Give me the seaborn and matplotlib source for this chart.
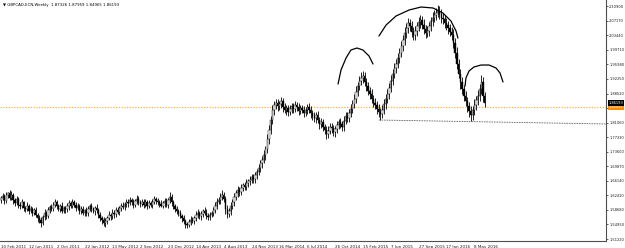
import numpy as np
import pandas as pd
import matplotlib
matplotlib.use("Agg")
import matplotlib.pyplot as plt
import seaborn as sns

# ---------------- data ----------------
FIRST_OPEN = 1.612
CLOSE = [
 1.617,1.622,1.610,1.625,1.630,1.618,1.626,1.612,1.604,1.615,
 1.600,1.596,1.606,1.592,1.588,1.598,1.584,1.590,1.580,1.586,
 1.575,1.566,1.560,1.552,1.568,1.578,1.572,1.586,1.594,1.590,
 1.600,1.606,1.596,1.590,1.598,1.585,1.592,1.588,1.596,1.604,
 1.598,1.606,1.600,1.592,1.596,1.584,1.590,1.580,1.586,1.578,
 1.590,1.596,1.588,1.584,1.592,1.586,1.574,1.566,1.560,1.552,
 1.558,1.566,1.574,1.570,1.580,1.576,1.586,1.582,1.592,1.598,
 1.594,1.602,1.608,1.604,1.612,1.606,1.600,1.610,1.616,1.608,
 1.602,1.608,1.600,1.606,1.598,1.604,1.600,1.608,1.614,1.610,
 1.606,1.602,1.598,1.604,1.610,1.600,1.612,1.620,1.606,1.596,
 1.590,1.584,1.578,1.572,1.566,1.558,1.550,1.548,1.556,1.562,
 1.558,1.566,1.574,1.580,1.570,1.576,1.584,1.580,1.572,1.568,
 1.574,1.580,1.586,1.598,1.608,1.612,1.620,1.626,1.616,1.590,
 1.576,1.584,1.596,1.608,1.620,1.630,1.638,1.634,1.644,1.650,
 1.646,1.656,1.660,1.664,1.670,1.666,1.676,1.684,1.694,1.706,
 1.716,1.728,1.742,1.768,1.792,1.818,1.842,1.856,1.862,1.852,
 1.858,1.866,1.850,1.842,1.848,1.838,1.846,1.852,1.846,1.856,
 1.850,1.840,1.848,1.844,1.836,1.842,1.850,1.844,1.834,1.828,
 1.822,1.830,1.818,1.806,1.812,1.800,1.792,1.782,1.790,1.800,
 1.796,1.786,1.794,1.804,1.812,1.806,1.800,1.816,1.828,1.822,
 1.834,1.846,1.858,1.872,1.890,1.904,1.918,1.926,1.930,1.916,
 1.904,1.892,1.884,1.872,1.862,1.856,1.846,1.838,1.832,1.844,
 1.858,1.872,1.884,1.900,1.918,1.936,1.950,1.962,1.976,1.990,
 2.006,2.022,2.040,2.054,2.066,2.058,2.042,2.034,2.046,2.058,
 2.068,2.074,2.062,2.050,2.040,2.046,2.058,2.070,2.080,2.086,
 2.092,2.098,2.088,2.080,2.076,2.066,2.060,2.052,2.044,2.036,
 2.016,1.990,1.962,1.936,1.914,1.896,1.878,1.866,1.852,1.840,
 1.830,1.842,1.856,1.868,1.880,1.896,1.916,1.878,1.862]
# upper / lower wick beyond the body, in units of 0.001
WICK_UP = [
 6,8,5,9,4,7,10,5,6,8, 5,7,9,4,6,8,5,7,4,6, 8,5,7,9,6,10,5,8,6,7,
 6,9,5,7,4,8,6,5,9,7, 5,8,6,7,9,5,6,8,4,7, 6,5,8,7,5,9,6,7,5,8,
 7,6,9,5,8,6,7,9,5,6, 8,5,7,6,9,5,8,6,10,7, 5,7,6,8,5,9,6,7,8,5,
 7,6,9,5,8,7,6,12,8,6, 5,7,6,8,5,9,6,7,8,10, 7,6,9,8,5,7,6,9,8,6,
 7,5,9,8,10,7,9,12,8,6, 9,7,10,8,9,7,10,8,9,7, 8,10,7,9,8,10,9,8,10,9,
 10,12,9,14,12,10,13,11,9,8, 9,11,8,10,7,9,11,8,10,9, 8,10,9,7,10,8,9,11,8,10,
 9,7,10,8,11,9,8,10,12,9, 10,8,9,11,9,10,8,12,10,9, 11,12,10,13,14,12,11,15,12,10,
 9,11,10,12,9,11,10,12,11,13, 12,11,13,12,14,11,13,12,14,13, 14,12,15,13,12,11,13,14,12,11,
 13,12,11,14,12,13,11,12,14,13, 12,14,11,13,12,10,14,12,11,13, 14,12,15,13,11,14,12,13,11,12,
 13,12,14,11,15,13,16,12,11]
WICK_DN = [
 7,5,9,6,8,5,7,9,6,5, 8,6,5,9,7,5,8,6,9,7, 6,9,7,8,5,7,9,6,8,5,
 7,5,8,6,9,7,5,8,6,9, 6,7,5,9,6,8,7,5,9,6, 8,6,7,5,9,6,8,7,9,6,
 9,7,5,8,6,9,7,5,8,7, 6,8,7,9,5,7,8,6,7,9, 7,6,8,5,9,6,7,8,5,7,
 6,8,5,7,9,6,8,7,9,8, 9,7,8,6,9,8,10,7,6,8, 6,8,7,9,6,8,7,5,9,7,
 8,6,9,7,8,6,10,7,9,14, 10,8,9,7,10,8,9,11,8,9, 9,8,11,9,8,10,9,11,8,10,
 11,9,12,10,13,11,10,12,10,11, 10,9,12,8,11,10,9,12,10,9, 9,11,8,10,12,9,10,8,11,10,
 10,12,9,11,10,12,11,13,10,9, 11,10,12,9,11,10,12,10,9,11, 10,9,12,11,10,12,11,10,13,12,
 12,11,13,10,12,11,13,12,14,10, 11,12,10,13,11,12,10,12,11,13, 12,11,13,12,14,12,13,11,12,13,
 12,14,11,13,12,11,13,12,11,12, 13,11,12,14,12,13,11,14,12,13, 15,13,14,12,16,13,12,14,13,15,
 14,13,12,14,11,13,12,15,12]

X_TICK_WEEKS = [0, 16, 32, 48, 64, 80, 96, 112, 128, 144, 160, 176, 192, 208, 224, 240, 256, 272]
X_TICK_LABELS = ["10 Feb 2011", "12 Jun 2011", "2 Oct 2011", "22 Jan 2012", "13 May 2012",
                 "2 Sep 2012", "23 Dec 2012", "14 Apr 2013", "4 Aug 2013", "24 Nov 2013",
                 "16 Mar 2014", "6 Jul 2014", "26 Oct 2014", "15 Feb 2015", "7 Jun 2015",
                 "27 Sep 2015", "17 Jan 2016", "8 May 2016"]
Y_TICKS = [1.51220, 1.54950, 1.58680, 1.62410, 1.66140, 1.69870, 1.73600, 1.77330, 1.81060,
           1.84790, 1.88520, 1.92250, 1.95980, 1.99710, 2.03440, 2.07170, 2.10900]
# the 1.84790 label sits under the price boxes in the reference
Y_TICK_LABELS = ["1.51220", "1.54950", "1.58680", "1.62410", "1.66140", "1.69870", "1.73600",
                 "1.77330", "1.81060", "", "1.88520", "1.92250", "1.95980", "1.99710",
                 "2.03440", "2.07170", "2.10900"]

HEADER = "\u25bc GBPCAD-ECN,Weekly  1.87326 1.87959 1.84965 1.86193"
LAST_PRICE = 1.86193
ORANGE_LEVEL = 1.85047

# hand-drawn annotations (week, price)
ARC_LEFT_W = [193.7, 195.4, 198.3, 201.1, 204.6, 208.0, 211.5, 213.8]
ARC_LEFT_P = [1.9096, 1.9455, 1.9763, 1.9968, 2.0019, 1.9968, 1.9814, 1.9609]
ARC_HEAD_W = [217.2, 221.3, 227.0, 234.5, 241.4, 248.3, 254.0, 258.6, 261.5, 262.6]
ARC_HEAD_P = [2.0326, 2.0608, 2.0839, 2.0993, 2.1070, 2.1045, 2.0916, 2.0711, 2.0455, 2.0275]
ARC_RIGHT_W = [266.7, 267.2, 269.0, 271.8, 275.9, 280.5, 284.5, 286.8, 288.5]
ARC_RIGHT_P = [1.9045, 1.9250, 1.9430, 1.9532, 1.9583, 1.9583, 1.9506, 1.9378, 1.9148]
SUPPORT_W = [217.2, 348.3]
SUPPORT_P = [1.8173, 1.8071]

# ---------------- figure ----------------
sns.set_style("white")
plt.rcParams["font.family"] = ["DejaVu Sans"]

fig = plt.figure(figsize=(6.25, 2.48), dpi=100)
ax = fig.add_axes([0, 1 - 241 / 248, 606 / 625, 241 / 248])

n = len(CLOSE)
weeks = np.arange(n)
close = np.array(CLOSE)
open_ = np.concatenate([[FIRST_OPEN], close[:-1]])
top = np.maximum(open_, close)
bot = np.minimum(open_, close)
high = top + np.array(WICK_UP) / 1000.0
low = bot - np.array(WICK_DN) / 1000.0

df = pd.DataFrame({"week": weeks, "open": open_, "close": close, "high": high, "low": low})

ax.vlines(df["week"], df["low"], df["high"], color="black", linewidth=0.6, zorder=3)
face = np.where(close >= open_, "white", "black")
ax.bar(df["week"], np.maximum(top - bot, 0.0015), bottom=bot, width=0.8,
       color=face, edgecolor="black", linewidth=0.3, zorder=4)

# level lines
ax.axhline(ORANGE_LEVEL, color="#FFB347", linestyle=(0, (1.0, 1.2)), linewidth=0.9, zorder=2)
sns.lineplot(x=SUPPORT_W, y=SUPPORT_P, ax=ax, color="#333333", linestyle=(0, (1, 1)),
             linewidth=0.6, sort=False, zorder=2)

# hand-drawn arcs
for w, p in [(ARC_LEFT_W, ARC_LEFT_P), (ARC_HEAD_W, ARC_HEAD_P), (ARC_RIGHT_W, ARC_RIGHT_P)]:
    sns.lineplot(x=w, y=p, ax=ax, color="black", linewidth=0.9, sort=False, zorder=5)

ax.set_xlim(-0.575, 347.7)
ax.set_ylim(1.5071, 2.1250)

# axes styling
for s in ["top", "left"]:
    ax.spines[s].set_visible(False)
for s in ["right", "bottom"]:
    ax.spines[s].set_color("#505050")
    ax.spines[s].set_linewidth(0.8)

ax.yaxis.tick_right()
ax.set_yticks(Y_TICKS)
ax.set_yticklabels(Y_TICK_LABELS)
ax.set_xticks(X_TICK_WEEKS)
ax.set_xticklabels(X_TICK_LABELS)
ax.tick_params(axis="y", labelsize=2.6, length=1.5, width=0.5, pad=0.8, colors="#202020")
ax.tick_params(axis="x", labelsize=3.0, length=2, width=0.5, pad=1, colors="#202020")
for lbl in ax.get_xticklabels():
    lbl.set_horizontalalignment("left")
ax.set_xlabel("")
ax.set_ylabel("")

# price boxes on the right axis
ytr = ax.get_yaxis_transform()
ax.text(1.004, ORANGE_LEVEL, f"{ORANGE_LEVEL:.5f}", transform=ytr, fontsize=2.6,
        color="white", va="center", ha="left", clip_on=False, zorder=10,
        bbox=dict(boxstyle="square,pad=0.25", fc="#FF8C00", ec="none"))
ax.text(1.004, LAST_PRICE, f"{LAST_PRICE:.5f}", transform=ytr, fontsize=2.6,
        color="white", va="center", ha="left", clip_on=False, zorder=11,
        bbox=dict(boxstyle="square,pad=0.25", fc="black", ec="none"))

# header
fig.text(3 / 625, 1 - 5 / 248, HEADER, fontsize=2.8, color="black", va="center", ha="left")

fig.savefig("out.png", dpi=100, facecolor="white")
